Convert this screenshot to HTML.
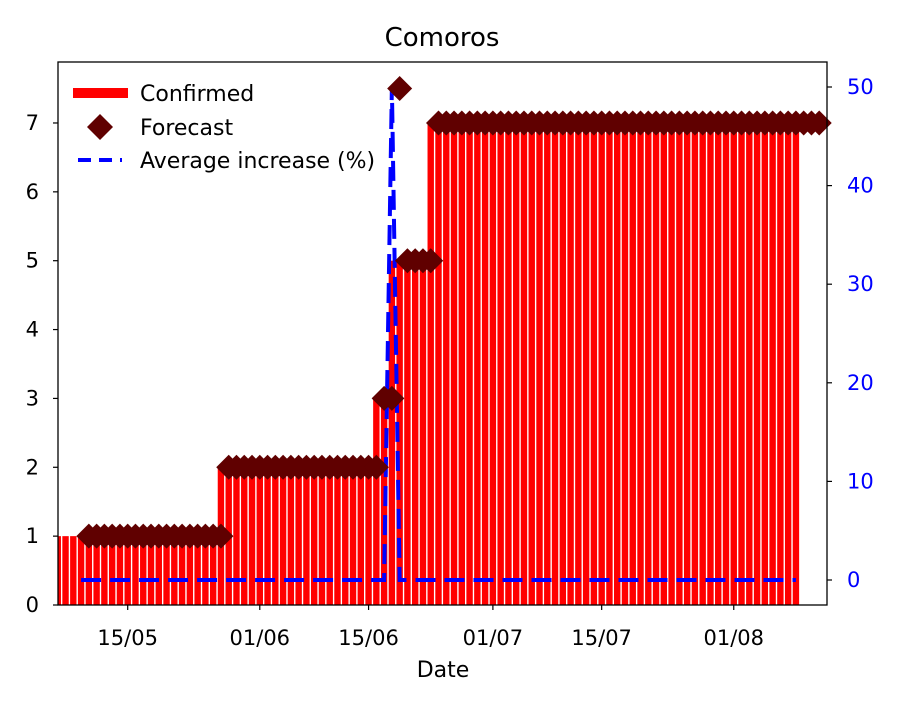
<!DOCTYPE html>
<html><head><meta charset="utf-8"><style>
body{margin:0;background:#fff;}
svg text{font-family:"DejaVu Sans","Liberation Sans",sans-serif;}
</style></head><body>
<svg id="chart" width="900" height="700" xmlns="http://www.w3.org/2000/svg">
<defs><clipPath id="plotclip"><rect x="58" y="62" width="769" height="543"/></clipPath></defs>
<rect width="900" height="700" fill="#fff"/>
<text x="442" y="46" font-size="26" text-anchor="middle">Comoros</text>
<g id="bars" clip-path="url(#plotclip)"></g>
<g id="pctline" clip-path="url(#plotclip)"></g>
<g id="forecast"></g>
<rect x="58" y="62" width="769" height="543" fill="none" stroke="#000" stroke-width="1.3"/>
<g id="axes"></g>
<text x="443" y="677" font-size="22" text-anchor="middle">Date</text>
<g>
<rect x="73" y="88" width="55" height="10" fill="#f00"/>
<text x="140" y="101" font-size="22">Confirmed</text>
<polygon points="100,114 113,127 100,140 87,127" fill="#600000"/>
<text x="140" y="135" font-size="22">Forecast</text>
<line x1="78" y1="160" x2="122" y2="160" stroke="#00f" stroke-width="4" stroke-dasharray="13,8"/>
<text x="140" y="168" font-size="22">Average increase (%)</text>
</g>
</svg>
<script>
// day index 0 = 07 May
const confirmedDays = [-1,0,1,2,3,4,5,6,7,8,9,10,11,12,13,14,15,16,17,18,19,20,21,22,23,24,25,26,27,28,29,30,31,32,33,34,35,36,37,38,39,40,41,42,43,44,45,46,47,48,49,50,51,52,53,54,55,56,57,58,59,60,61,62,63,64,65,66,67,68,69,70,71,72,73,74,75,76,77,78,79,80,81,82,83,84,85,86,87,88,89,90,91,92,93,94];
const confirmedRuns = [[-1,19,1],[20,39,2],[40,41,3],[42,46,5],[47,94,7]];
const forecastRuns = [[3,20,1],[21,40,2],[41,42,3],[43,43,7.5],[44,47,5],[48,97,7]];
const pctRuns = [[2,41,0],[42,42,50],[43,94,0]];
const leftTicks = [0,1,2,3,4,5,6,7];
const rightTicks = [0,10,20,30,40,50];
const dateTicks = [8,25,39,55,69,86];
const dateLabels = ["15/05","01/06","15/06","01/07","15/07","01/08"];

const NS="http://www.w3.org/2000/svg";
function xs(d){return 127.7+(d-8)*7.77;}
function yl(v){return 605-v*68.86;}
function yr(v){return 580-v*9.86;}
function runVal(runs,d){for(const r of runs){if(d>=r[0]&&d<=r[1])return r[2];}return null;}
function mk(tag,attrs,parent){const e=document.createElementNS(NS,tag);for(const k in attrs)e.setAttribute(k,attrs[k]);parent.appendChild(e);return e;}

const gb=document.getElementById('bars');
confirmedDays.forEach(d=>{
  const v=runVal(confirmedRuns,d);
  const r=mk('rect',{x:xs(d)-3.2,y:yl(v),width:6.4,height:yl(0)-yl(v),fill:'#f00'},gb);
  
  
});

const gf=document.getElementById('forecast');
forecastRuns.forEach(run=>{
  for(let d=run[0];d<=run[1];d++){
    const cx=xs(d),cy=yl(run[2]);
    const p=mk('polygon',{points:`${cx},${cy-12.5} ${cx+12.5},${cy} ${cx},${cy+12.5} ${cx-12.5},${cy}`,fill:'#600000'},gf);
    
    
  }
});

const gp=document.getElementById('pctline');
let pts=[];
for(const run of pctRuns){for(let d=run[0];d<=run[1];d++)pts.push(xs(d)+','+yr(run[2]));}
const pl=mk('polyline',{points:pts.join(' '),fill:'none',stroke:'#00f','stroke-width':4,'stroke-dasharray':'20,9'},gp);



const ga=document.getElementById('axes');
leftTicks.forEach(v=>{
  const y=yl(v);
  mk('line',{x1:53,y1:y,x2:58,y2:y,stroke:'#000','stroke-width':1.2},ga);
  const t=mk('text',{x:39,y:y+7,'font-size':21,'text-anchor':'end'},ga);t.textContent=v;
  
  
});
rightTicks.forEach(v=>{
  const y=yr(v);
  mk('line',{x1:827,y1:y,x2:832,y2:y,stroke:'#000','stroke-width':1.2},ga);
  const t=mk('text',{x:847,y:y+7,'font-size':21,fill:'#00f'},ga);t.textContent=v;
  
  
});
dateTicks.forEach((d,i)=>{
  const x=xs(d);
  mk('line',{x1:x,y1:605,x2:x,y2:610,stroke:'#000','stroke-width':1.2},ga);
  const t=mk('text',{x:x,y:645,'font-size':21,'text-anchor':'middle'},ga);t.textContent=dateLabels[i];
  
  
});
</script>
</body></html>
